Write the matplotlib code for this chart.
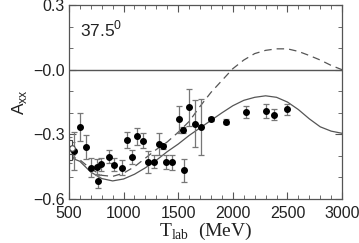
import matplotlib
matplotlib.use("Agg")
import matplotlib.pyplot as plt
from matplotlib.ticker import MultipleLocator, FixedLocator

# measured points (filled)
t_data = [546, 600, 656, 701, 753, 769, 796, 866, 915, 982, 1028, 1074, 1126,
          1181, 1226, 1281, 1327, 1358, 1391, 1440, 1508, 1547, 1553, 1602,
          1651, 1706, 1800, 1940, 2117, 2304, 2377, 2499]
a_data = [-0.377, -0.265, -0.358, -0.455, -0.451, -0.517, -0.438, -0.404,
          -0.44, -0.455, -0.327, -0.404, -0.308, -0.33, -0.428, -0.428, -0.344,
          -0.355, -0.43, -0.43, -0.23, -0.279, -0.466, -0.174, -0.25, -0.268,
          -0.23, -0.242, -0.196, -0.191, -0.208, -0.183]
a_err = [0.09, 0.066, 0.054, 0.044, 0.035, 0.03, 0.03, 0.03, 0.03, 0.035,
         0.036, 0.032, 0.039, 0.035, 0.05, 0.03, 0.05, 0.012, 0.033, 0.035,
         0.063, 0.014, 0.054, 0.085, 0.11, 0.13, 0.01, 0.012, 0.026, 0.032,
         0.025, 0.025]

# open symbols at low energy
t_sq = [505, 505]
a_sq = [-0.34, -0.405]
e_sq = [0.03, 0.03]
t_ci = [532]
a_ci = [-0.365]
e_ci = [0.03]

# model curves
t_curve = [500, 600, 700, 800, 900, 1000, 1100, 1200, 1300, 1400, 1500, 1600,
           1700, 1800, 1900, 2000, 2100, 2200, 2300, 2400, 2500, 2600, 2700,
           2800, 2900, 3000]
a_solid = [-0.405, -0.425, -0.475, -0.505, -0.516, -0.507, -0.485, -0.455,
           -0.42, -0.38, -0.345, -0.305, -0.27, -0.235, -0.2, -0.167, -0.142,
           -0.128, -0.121, -0.128, -0.15, -0.185, -0.228, -0.265, -0.285,
           -0.295]
a_dash = [-0.398, -0.418, -0.46, -0.49, -0.495, -0.48, -0.45, -0.41, -0.37,
          -0.335, -0.29, -0.24, -0.17, -0.105, -0.05, 0.005, 0.045, 0.075,
          0.09, 0.097, 0.097, 0.085, 0.066, 0.045, 0.02, 0.0]

gray = "#555555"

fig = plt.figure(figsize=(3.59, 2.43), dpi=100)
ax = fig.add_axes([0.192, 0.181, 0.761, 0.798])

ax.axhline(0.0, color=gray, lw=1.0)
ax.plot(t_curve, a_solid, color=gray, lw=0.9)
ax.plot(t_curve, a_dash, color=gray, lw=0.9, dashes=(6, 4))

ax.errorbar(t_data, a_data, yerr=a_err, fmt="o", color="black", ms=4,
            ecolor="#777777", elinewidth=0.9, capsize=2.5, capthick=0.9)
ax.errorbar(t_sq, a_sq, yerr=e_sq, fmt="s", mfc="white", mec="#444444",
            ms=4, ecolor="#777777", elinewidth=0.8, capsize=2, mew=0.8)
ax.errorbar(t_ci, a_ci, yerr=e_ci, fmt="o", mfc="white", mec="#444444",
            ms=4, ecolor="#777777", elinewidth=0.8, capsize=2, mew=0.8)

ax.set_xlim(500, 3000)
ax.set_ylim(-0.6, 0.3)
ax.xaxis.set_major_locator(MultipleLocator(500))
ax.xaxis.set_minor_locator(MultipleLocator(100))
ax.yaxis.set_major_locator(FixedLocator([-0.6, -0.3, 0.0, 0.3]))
ax.yaxis.set_minor_locator(MultipleLocator(0.1))
ax.set_yticklabels(["\u22120.6", "\u22120.3", "\u22120.0", "0.3"])
ax.tick_params(which="both", direction="in", top=True, right=True,
               color=gray, labelsize=11.5, labelcolor="#222222")
ax.tick_params(which="major", length=5)
ax.tick_params(which="minor", length=3)
ax.tick_params(axis="x", pad=5)
ax.tick_params(axis="y", pad=3)
for lab in ax.get_xticklabels() + ax.get_yticklabels():
    lab.set_family("Liberation Sans")
for s in ax.spines.values():
    s.set_color(gray)
    s.set_linewidth(0.9)

ax.text(0.04, 0.93, "37.5$^{\\mathregular{0}}$", transform=ax.transAxes,
        fontsize=12.5, va="top", ha="left", color="#222222",
        family="Liberation Sans")
ax.set_xlabel("T$_{\\mathregular{lab}}$  (MeV)", fontsize=14,
              family="Liberation Serif", color="#222222", labelpad=0)
ax.set_ylabel("A$_{\\mathregular{xx}}$", fontsize=12.5, color="#222222",
              family="Liberation Sans", labelpad=3)

fig.savefig("out.png", dpi=100)
